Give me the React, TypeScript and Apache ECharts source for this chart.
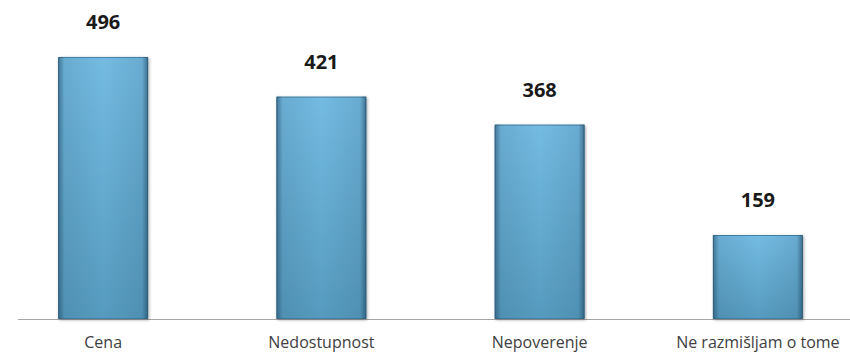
import React, { useEffect, useRef } from "react";
import * as echarts from "echarts";

const categories = ["Cena", "Nedostupnost", "Nepoverenje", "Ne razmišljam o tome"];
const values = [496, 421, 368, 159];

export default function App() {
  const ref = useRef<HTMLDivElement>(null);

  useEffect(() => {
    document.body.style.margin = "0";
    document.documentElement.style.overflow = "hidden";
    document.body.style.overflow = "hidden";
    if (!ref.current) return;
    const chart = echarts.init(ref.current, null, { renderer: "svg" });
    chart.setOption({
      animation: false,
      grid: { left: 0, right: 0, top: 2, bottom: 33, containLabel: false },
      xAxis: {
        type: "category",
        data: categories,
        axisLine: { show: false },
        axisTick: { show: false },
        axisLabel: {
          color: "#404040",
          fontFamily: "Open Sans",
          fontSize: 16,
          margin: 15,
        },
      },
      yAxis: {
        type: "value",
        min: 0,
        max: 600,
        show: false,
        splitLine: { show: false },
      },
      graphic: [
        {
          type: "line",
          shape: { x1: 24, y1: 319.5, x2: 873, y2: 319.5 },
          style: { stroke: "#a6a6a6", lineWidth: 1 },
          z: 0,
        },
      ],
      series: [
        {
          type: "bar",
          data: values,
          barWidth: 90,
          z: 2,
          itemStyle: {
            color: new echarts.graphic.LinearGradient(0, 0, 0, 1, [
              { offset: 0, color: "#74bbe2" },
              { offset: 1, color: "#569bbf" },
            ]),
            borderColor: "#4384a8",
            borderWidth: 1,
            shadowColor: "rgba(0,0,0,0.35)",
            shadowBlur: 3,
            shadowOffsetX: 1,
            shadowOffsetY: 1,
          },
          label: {
            show: true,
            position: "top",
            distance: 25,
            color: "#1a1a1a",
            fontFamily: "Open Sans",
            fontWeight: "bold",
            fontSize: 20,
          },
        },
        {
          // bevel shading over the same bars
          type: "bar",
          data: values,
          barWidth: 90,
          barGap: "-100%",
          z: 3,
          silent: true,
          itemStyle: {
            color: new echarts.graphic.LinearGradient(0, 0, 1, 0, [
              { offset: 0, color: "rgba(25,60,85,0.55)" },
              { offset: 0.07, color: "rgba(25,60,85,0.12)" },
              { offset: 0.5, color: "rgba(25,60,85,0)" },
              { offset: 0.93, color: "rgba(25,60,85,0.12)" },
              { offset: 1, color: "rgba(25,60,85,0.6)" },
            ]),
          },
          label: { show: false },
        },
      ],
    });
    return () => chart.dispose();
  }, []);

  return (
    <div
      ref={ref}
      style={{ position: "relative", left: -6, top: 0, width: 873, height: 352 }}
    />
  );
}
